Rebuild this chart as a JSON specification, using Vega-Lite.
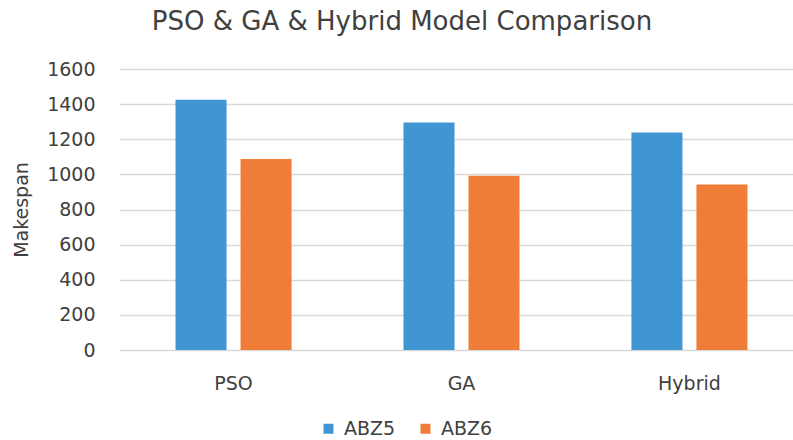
{
  "$schema": "https://vega.github.io/schema/vega-lite/v6.json",
  "width": 674,
  "height": 281,
  "autosize": {"type": "none"},
  "padding": {"left": 119, "top": 69, "right": 0, "bottom": 90},
  "background": "white",
  "title": {
    "text": "PSO & GA & Hybrid Model Comparison",
    "font": "DejaVu Sans",
    "fontSize": 26,
    "fontWeight": "normal",
    "color": "#404040",
    "anchor": "middle",
    "baseline": "alphabetic",
    "dx": -54,
    "offset": 4
  },
  "data": {
    "values": [
      {"model": "PSO", "series": "ABZ5", "makespan": 1425},
      {"model": "PSO", "series": "ABZ6", "makespan": 1087},
      {"model": "GA", "series": "ABZ5", "makespan": 1296},
      {"model": "GA", "series": "ABZ6", "makespan": 992},
      {"model": "Hybrid", "series": "ABZ5", "makespan": 1239},
      {"model": "Hybrid", "series": "ABZ6", "makespan": 942}
    ]
  },
  "config": {
    "view": {"stroke": null},
    "font": "DejaVu Sans"
  },
  "mark": {"type": "bar"},
  "encoding": {
    "x": {
      "field": "model",
      "type": "nominal",
      "sort": ["PSO", "GA", "Hybrid"],
      "scale": {"range": [0, 685], "paddingInner": 0.491, "paddingOuter": 0.248},
      "axis": {
        "title": null,
        "labelAngle": 0,
        "domain": false,
        "ticks": false,
        "labelFont": "DejaVu Sans",
        "labelFontSize": 19,
        "labelColor": "#404040",
        "labelPadding": 24
      }
    },
    "xOffset": {
      "field": "series",
      "type": "nominal",
      "scale": {"paddingInner": 0.215, "paddingOuter": 0}
    },
    "y": {
      "field": "makespan",
      "type": "quantitative",
      "scale": {"domain": [0, 1600], "nice": false},
      "axis": {
        "title": "Makespan",
        "titleFont": "DejaVu Sans",
        "titleFontSize": 19,
        "titleFontWeight": "normal",
        "titleColor": "#404040",
        "titlePadding": 15,
        "values": [0, 200, 400, 600, 800, 1000, 1200, 1400, 1600],
        "format": "d",
        "domain": false,
        "ticks": false,
        "labelFont": "DejaVu Sans",
        "labelFontSize": 19,
        "labelColor": "#404040",
        "labelPadding": 24,
        "grid": true,
        "gridColor": "#D9D9D9",
        "gridWidth": 1.5
      }
    },
    "color": {
      "field": "series",
      "type": "nominal",
      "scale": {"domain": ["ABZ5", "ABZ6"], "range": ["#4096D2", "#EF7D37"]},
      "legend": {
        "title": null,
        "orient": "none",
        "direction": "horizontal",
        "legendX": 200,
        "legendY": 350,
        "symbolType": "square",
        "symbolSize": 100,
        "symbolOpacity": 1,
        "labelFont": "DejaVu Sans",
        "labelFontSize": 19,
        "labelColor": "#404040",
        "columnPadding": 20,
        "labelOffset": 6
      }
    }
  }
}
